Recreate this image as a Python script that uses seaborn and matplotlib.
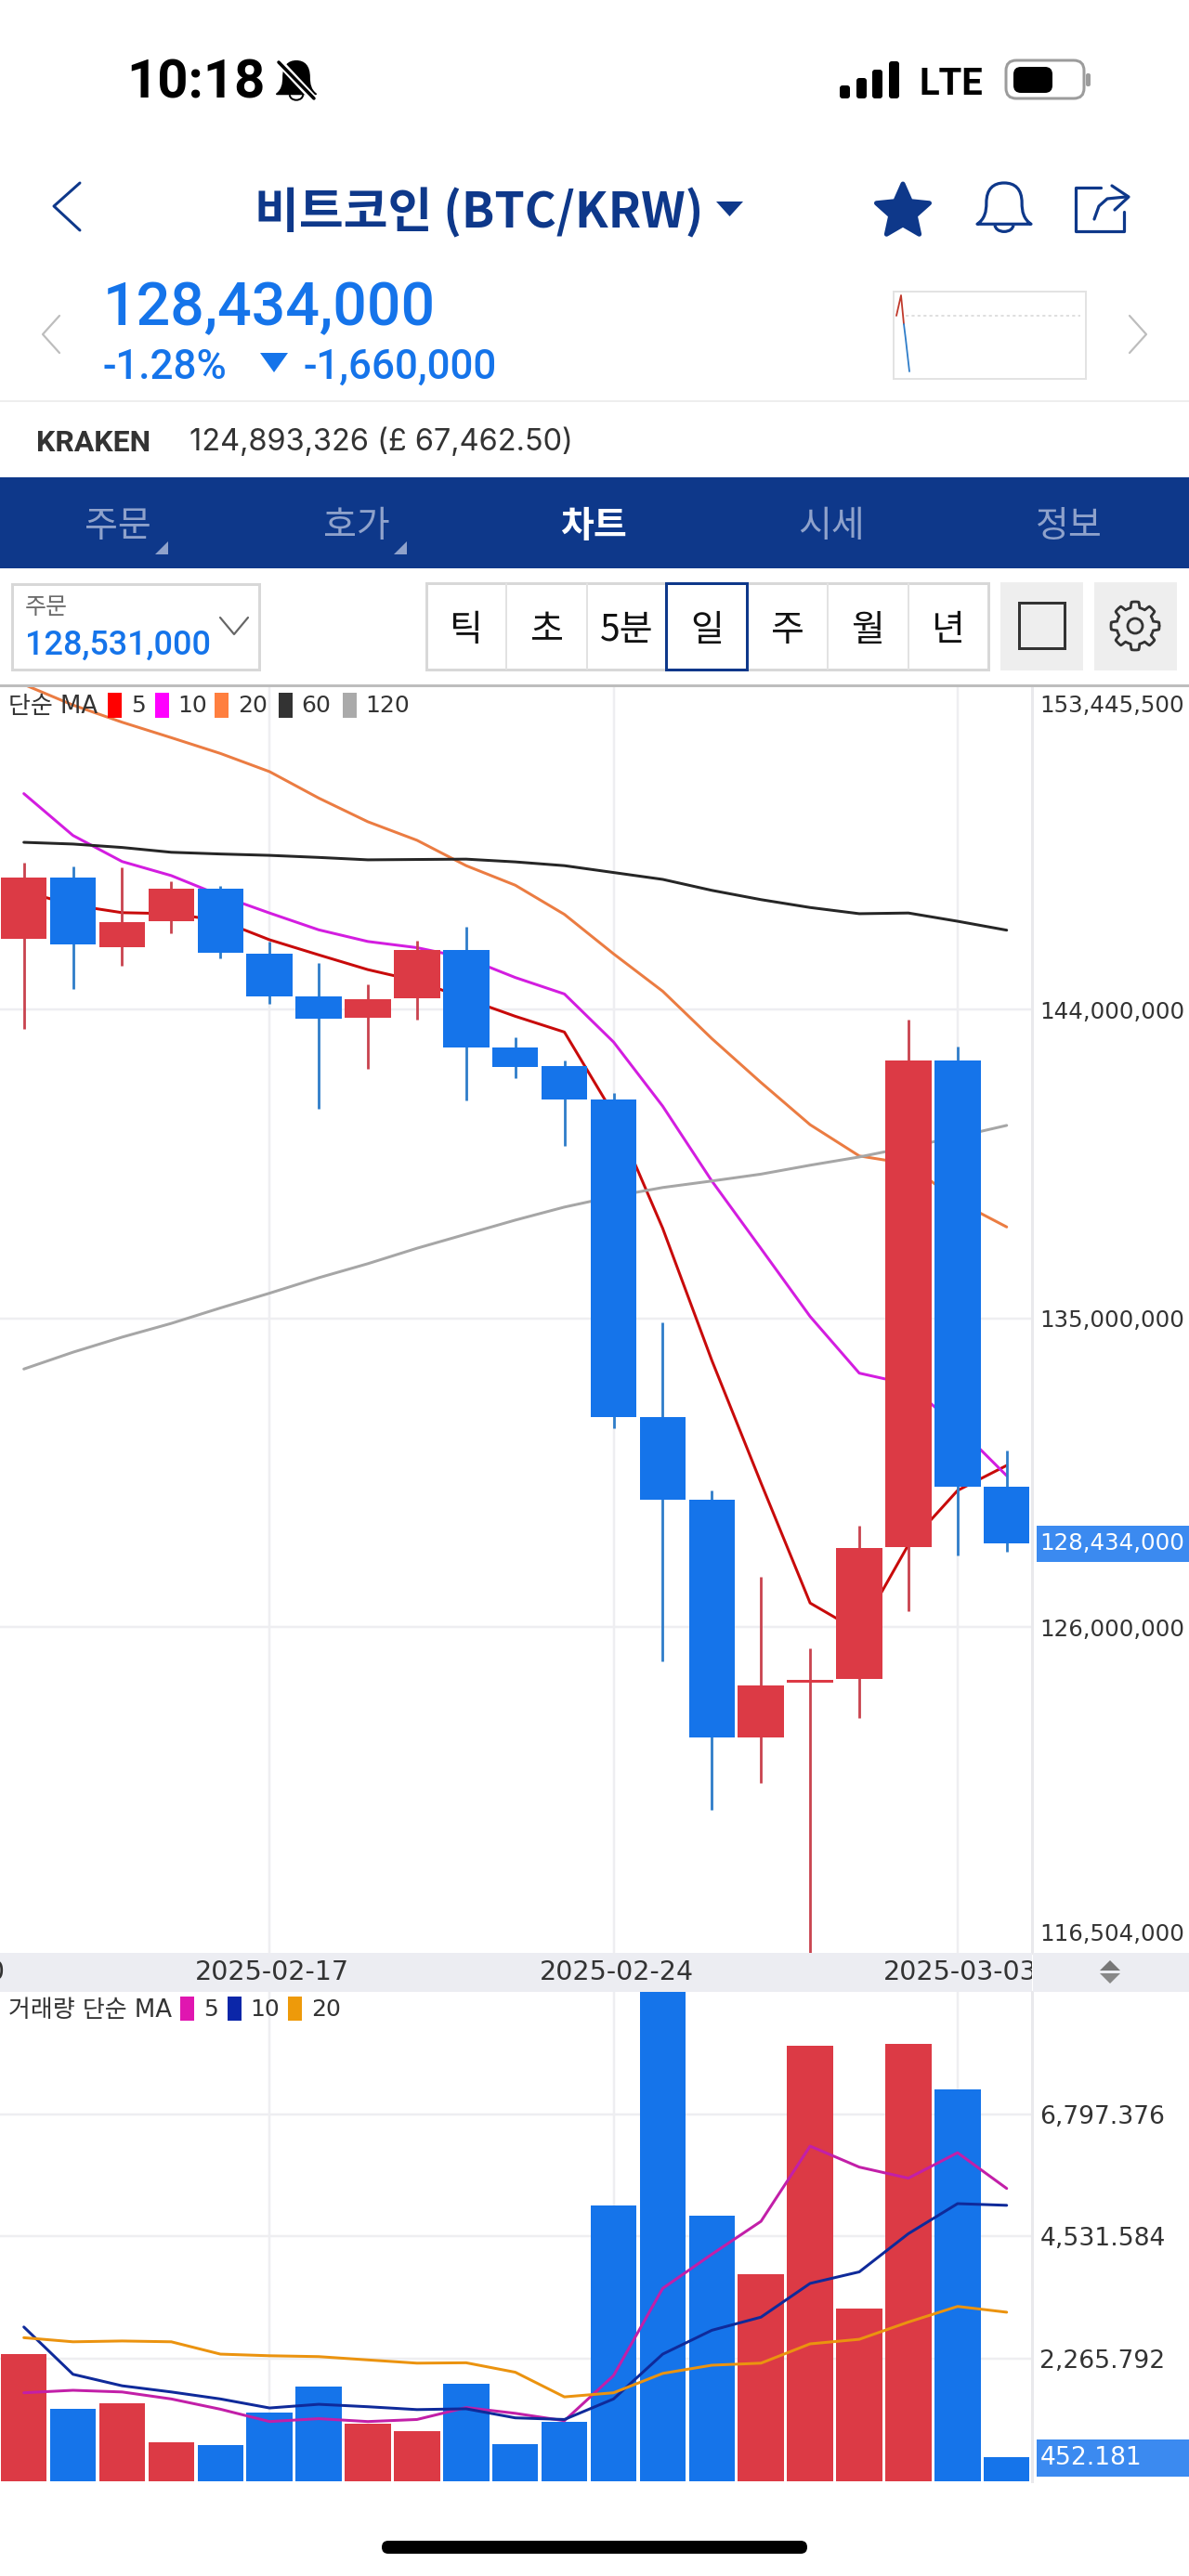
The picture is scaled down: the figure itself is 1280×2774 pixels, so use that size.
import numpy as np
import pandas as pd
import matplotlib
matplotlib.use("Agg")
import matplotlib.pyplot as plt
import matplotlib.patches as mpatches
from matplotlib.path import Path
import seaborn as sns

# candles, millions of KRW
days = list(range(21))
price_open = [146.06, 147.85, 145.81, 146.56, 147.51, 145.62, 144.38, 143.77, 144.33, 145.72, 142.88,
              142.36, 141.37, 132.13, 129.70, 122.77, 124.38, 124.49, 128.32, 142.50, 130.08]
price_close = [147.85, 145.90, 146.55, 147.51, 145.64, 144.39, 143.74, 144.31, 145.72, 142.88, 142.32,
               141.37, 132.13, 129.70, 122.77, 124.29, 124.47, 128.30, 142.50, 130.08, 128.434]
price_high = [148.28, 148.16, 148.14, 147.73, 147.61, 145.98, 145.35, 144.74, 146.01, 146.41, 143.19,
              142.50, 141.57, 134.88, 129.98, 127.47, 125.38, 128.95, 143.70, 142.93, 131.14]
price_low = [143.44, 144.59, 145.28, 146.21, 145.50, 144.15, 141.11, 142.26, 143.70, 141.34, 141.99,
             140.02, 131.80, 125.00, 120.68, 121.47, 116.30, 123.34, 126.47, 128.08, 128.20]

ma5 = [147.44, 147.04, 146.82, 146.79, 146.59, 146.03, 145.59, 145.16, 144.83, 144.31, 143.80,
       143.34, 140.95, 137.62, 133.77, 130.20, 126.70, 125.87, 128.40, 129.98, 130.71]
ma10 = [150.29, 149.07, 148.31, 147.90, 147.32, 146.81, 146.32, 145.98, 145.80, 145.50, 144.93,
        144.45, 143.05, 141.18, 139.00, 137.03, 135.05, 133.40, 133.08, 131.84, 130.41]
ma20 = [153.47, 152.87, 152.37, 151.92, 151.46, 150.93, 150.16, 149.47, 148.93, 148.19, 147.62,
        146.77, 145.62, 144.53, 143.15, 141.87, 140.64, 139.73, 139.50, 138.41, 137.66]
ma60 = [148.87, 148.82, 148.72, 148.58, 148.53, 148.49, 148.43, 148.36, 148.37, 148.38, 148.30,
        148.19, 147.99, 147.79, 147.47, 147.20, 146.97, 146.79, 146.81, 146.57, 146.31]
ma120 = [133.52, 134.01, 134.45, 134.85, 135.30, 135.73, 136.18, 136.59, 137.04, 137.45, 137.86,
         138.24, 138.55, 138.81, 139.00, 139.20, 139.46, 139.70, 139.99, 140.29, 140.62]

volume = [2365, 1338, 1445, 722, 669, 1270, 1764, 1072, 935, 1817, 692,
          1102, 5102, 9300, 4912, 3832, 8052, 3201, 8090, 7261, 452.181]
vol_ma5 = [1642, 1688, 1657, 1528, 1338, 1110, 1163, 1110, 1148, 1369, 1262,
           1125, 1961, 3573, 4204, 4813, 6204, 5816, 5611, 6082, 5421]
vol_ma10 = [2859, 1984, 1771, 1657, 1528, 1361, 1429, 1384, 1331, 1346, 1178,
            1148, 1528, 2357, 2798, 3041, 3665, 3878, 4585, 5140, 5109]
vol_ma20 = [2661, 2585, 2600, 2585, 2357, 2327, 2311, 2250, 2190, 2197, 2022,
            1566, 1642, 2000, 2152, 2190, 2547, 2631, 2950, 3239, 3132]

price_ticks = [126, 135, 144]
price_tick_labels = ["126,000,000", "135,000,000", "144,000,000"]
price_min, price_max = 116.504, 153.4455
vol_ticks = [2265.792, 4531.584, 6797.376]
vol_top = 9063
date_pos = [-2, 5, 12, 19]
date_labels = ["2025-02-10", "2025-02-17", "2025-02-24", "2025-03-03"]

spark_up = [(965, 340), (970, 318), (973, 349)]
spark_down = [(973, 349), (975, 365), (979, 400)]

W, H = 1280, 2774
RED, BLUE = "#DC3A45", "#1574EA"
RED_WICK, BLUE_WICK = "#C9434F", "#2F7DC9"
NAVY = "#0E388A"
GRID = "#EEEEF1"
TEXT = "#333333"
CJK = ["Noto Sans CJK KR", "DejaVu Sans"]


def pt(px):
    return px * 0.72


sns.set_theme(style="white")
plt.rcParams["font.family"] = ["DejaVu Sans", "Noto Sans CJK KR"]

fig = plt.figure(figsize=(W / 100, H / 100), dpi=100, facecolor="white")


def px_axes(x0, y0, x1, y1, **kw):
    return fig.add_axes([x0 / W, 1 - y1 / H, (x1 - x0) / W, (y1 - y0) / H], **kw)


x_left, x_right = -0.485, 20.515
price_ax = px_axes(0, 738, 1111, 2103, facecolor="white")
time_ax = px_axes(0, 2103, 1111, 2144.6, facecolor="#ECEDF2")
vol_ax = px_axes(0, 2144.6, 1111, 2672.3, facecolor="white")

# price pane
for values, color in [(ma5, "#C80A0A"), (ma10, "#D31DE0"), (ma20, "#EB7C42"), (ma60, "#262626"), (ma120, "#A6A6A6")]:
    sns.lineplot(x=days, y=values, color=color, linewidth=pt(3), errorbar=None, ax=price_ax, zorder=2)

candle_df = pd.DataFrame({"day": days, "open": price_open, "close": price_close, "high": price_high, "low": price_low})
candle_df["up"] = candle_df["close"] >= candle_df["open"]
price_ax.vlines(candle_df["day"], candle_df["low"], candle_df["high"],
                colors=[RED_WICK if u else BLUE_WICK for u in candle_df["up"]], linewidth=pt(2.8), zorder=3)
price_ax.bar(candle_df["day"], (candle_df["close"] - candle_df["open"]).abs(),
             bottom=candle_df[["open", "close"]].min(axis=1), width=0.935, linewidth=0,
             color=[RED if u else BLUE for u in candle_df["up"]], zorder=4)

price_ax.set_xlim(x_left, x_right)
price_ax.set_ylim(price_min, price_max)
price_ax.set_xticks([5, 12, 19])
price_ax.set_xticklabels([])
price_ax.set_yticks(price_ticks)
price_ax.set_yticklabels(price_tick_labels)
price_ax.yaxis.tick_right()
price_ax.tick_params(length=0, labelsize=pt(24.5), labelcolor=TEXT, pad=6)
price_ax.grid(True, color=GRID, linewidth=pt(2.5))
price_ax.set_axisbelow(True)
price_ax.set_xlabel("")
price_ax.set_ylabel("")
for side in ["top", "left", "bottom"]:
    price_ax.spines[side].set_visible(False)
price_ax.spines["right"].set_color("#E9E9EC")
price_ax.spines["right"].set_linewidth(pt(3))
price_ax.annotate("153,445,500", xy=(1, price_max), xycoords=("axes fraction", "data"), xytext=(8, -22),
                  textcoords="offset pixels", va="center", fontsize=pt(24.5), color=TEXT, annotation_clip=False)
price_ax.annotate("116,504,000", xy=(1, price_min), xycoords=("axes fraction", "data"), xytext=(8, 20),
                  textcoords="offset pixels", va="center", fontsize=pt(24.5), color=TEXT, annotation_clip=False)

# date strip
time_ax.set_xlim(x_left, x_right)
time_ax.set_ylim(0, 1)
time_ax.set_xticks([])
time_ax.set_yticks([])
for spine in time_ax.spines.values():
    spine.set_visible(False)
for pos, label_text in zip(date_pos, date_labels):
    time_ax.text(pos + 0.06, 0.5, label_text, ha="center", va="center", fontsize=pt(28.5), color=TEXT, clip_on=True)

# volume pane
vol_df = pd.DataFrame({"day": days, "volume": volume, "up": candle_df["up"]})
sns.barplot(vol_df, x="day", y="volume", hue="up", palette={True: RED, False: BLUE}, native_scale=True,
            dodge=False, width=0.935, saturation=1, linewidth=0, legend=False, ax=vol_ax, zorder=2)
for values, color in [(vol_ma5, "#C21FA8"), (vol_ma10, "#0F2A9A"), (vol_ma20, "#EB930F")]:
    sns.lineplot(x=days, y=values, color=color, linewidth=pt(3), errorbar=None, ax=vol_ax, zorder=3)
vol_ax.set_xlim(x_left, x_right)
vol_ax.set_ylim(0, vol_top)
vol_ax.set_xticks([5, 12, 19])
vol_ax.set_xticklabels([])
vol_ax.set_yticks(vol_ticks)
vol_ax.set_yticklabels([f"{v:,.3f}" for v in vol_ticks])
vol_ax.yaxis.tick_right()
vol_ax.tick_params(length=0, labelsize=pt(26.5), labelcolor=TEXT, pad=6)
vol_ax.grid(True, color=GRID, linewidth=pt(2.5))
vol_ax.set_axisbelow(True)
vol_ax.set_xlabel("")
vol_ax.set_ylabel("")
for side in ["top", "left", "bottom"]:
    vol_ax.spines[side].set_visible(False)
vol_ax.spines["right"].set_color("#E9E9EC")
vol_ax.spines["right"].set_linewidth(pt(3))

# everything around the panes is drawn in screen pixels
ui = fig.add_axes([0, 0, 1, 1], zorder=5)
ui.set_xlim(0, W)
ui.set_ylim(H, 0)
ui.axis("off")
ui.patch.set_alpha(0)


def rect(x0, y0, x1, y1, fc="none", ec="none", lw=0, **kw):
    ui.add_patch(mpatches.Rectangle((x0, y0), x1 - x0, y1 - y0, facecolor=fc, edgecolor=ec, linewidth=pt(lw), **kw))


def round_rect(x0, y0, x1, y1, r, fc="none", ec="none", lw=0):
    ui.add_patch(mpatches.FancyBboxPatch((x0 + r, y0 + r), x1 - x0 - 2 * r, y1 - y0 - 2 * r,
                                         boxstyle=f"round,pad={r},rounding_size={r}",
                                         facecolor=fc, edgecolor=ec, linewidth=pt(lw)))


def poly(points, color, lw=2.0, **kw):
    xs, ys = zip(*points)
    ui.plot(xs, ys, color=color, linewidth=pt(lw), solid_joinstyle="round", solid_capstyle="round", **kw)


def tri(points, color):
    ui.add_patch(mpatches.Polygon(points, closed=True, facecolor=color, edgecolor="none"))


def label(x, y, s, px, color=TEXT, ha="center", family=None, weight="normal"):
    ui.text(x, y, s, fontsize=pt(px), color=color, ha=ha, va="center", family=family or CJK, fontweight=weight)


def bell(cx, top, w, h, fc="none", ec="black", lw=2.0):
    x0, x1 = cx - w / 2, cx + w / 2
    base = top + h * 0.82
    verts = [(x0, base),
             (x0 + .14 * w, base - .1 * h), (x0 + .17 * w, base - .25 * h), (x0 + .17 * w, base - .42 * h),
             (x0 + .17 * w, top + .12 * h), (cx - .2 * w, top), (cx, top),
             (cx + .2 * w, top), (x1 - .17 * w, top + .12 * h), (x1 - .17 * w, base - .42 * h),
             (x1 - .17 * w, base - .25 * h), (x1 - .14 * w, base - .1 * h), (x1, base),
             (x0, base)]
    codes = [Path.MOVETO] + [Path.CURVE4] * 12 + [Path.CLOSEPOLY]
    ui.add_patch(mpatches.PathPatch(Path(verts, codes), facecolor=fc, edgecolor=ec, linewidth=pt(lw), joinstyle="round"))
    ui.add_patch(mpatches.Arc((cx, base + h * .02), w * .34, h * .26, theta1=0, theta2=180, edgecolor=ec, linewidth=pt(lw)))


# status bar
label(136, 90, "10:18", 58, "black", "left", ["Roboto"], "bold")
bell(319, 66, 42, 43, fc="black", ec="black", lw=2)
poly([(298, 64), (340, 109)], "white", 8)
poly([(300, 67), (338, 106)], "black", 3.5)
for x, top in zip([904, 922, 939, 957], [92, 84, 75, 66]):
    round_rect(x, top, x + 11, 106, 3, fc="black")
label(990, 91, "LTE", 40, "black", "left", ["Roboto"], "bold")
round_rect(1083, 65, 1167, 106, 11, ec="#9C9C9C", lw=3)
round_rect(1091, 72, 1133, 100, 8, fc="black")
round_rect(1169, 79, 1174, 93, 2, fc="#9C9C9C")

# title row
poly([(86, 197), (58, 222), (86, 248)], NAVY, 3)
label(516, 229, "비트코인 (BTC/KRW)", 52, NAVY, weight="bold")
tri([(771, 217), (800, 217), (785.5, 233)], NAVY)
angles = np.deg2rad(np.arange(10) * 36 - 90)
radii = np.where(np.arange(10) % 2 == 0, 30, 14)
star = np.column_stack([972 + radii * np.cos(angles), 228 + radii * np.sin(angles)])
ui.add_patch(mpatches.Polygon(star, closed=True, facecolor=NAVY, edgecolor=NAVY, linewidth=pt(5), joinstyle="round"))
bell(1081, 197, 58, 54, ec=NAVY, lw=3.2)
poly([(1185, 202), (1158, 202), (1158, 249), (1210, 249), (1210, 228)], NAVY, 3.2)
poly([(1178, 236), (1183, 222), (1192, 214), (1212, 212)], NAVY, 3.2)
poly([(1197, 200), (1215, 212), (1200, 226)], NAVY, 3.2)

# price summary
poly([(64, 340), (46, 360), (64, 380)], "#BDBDBD", 2.2)
poly([(1216, 340), (1234, 360), (1216, 380)], "#BDBDBD", 2.2)
label(111, 332, "128,434,000", 64.5, BLUE, "left", ["Roboto"], "medium")
label(111, 396, "-1.28%", 44, BLUE, "left", ["Roboto"], "medium")
tri([(280, 380), (310, 380), (295, 401)], BLUE)
label(327, 396, "-1,660,000", 44, BLUE, "left", ["Roboto"], "medium")
rect(962, 314, 1169, 408, ec="#E3E3E3", lw=2)
ui.plot([975, 1163], [340, 340], color="#D8D8D8", linewidth=pt(1.6), linestyle=(0, (2, 2)))
poly(spark_up, "#C0392B", 1.8)
poly(spark_down, "#2F7DC9", 1.8)
rect(0, 431, W, 433, fc="#EEEEEE")

label(39, 477, "KRAKEN", 32, TEXT, "left", ["Roboto"], "bold")
label(204, 476, "124,893,326 (£ 67,462.50)", 32.5, TEXT, "left", ["Inter"])

# nav bar
rect(0, 514, W, 612, fc=NAVY)
for x, s in zip([127, 384, 639, 895, 1151], ["주문", "호가", "차트", "시세", "정보"]):
    if s == "차트":
        label(x, 567, s, 39, "white", weight="bold")
    else:
        label(x, 567, s, 39, "#8FA2CB")
tri([(181, 583), (181, 597), (167, 597)], "#8FA2CB")
tri([(438, 583), (438, 597), (424, 597)], "#8FA2CB")

# toolbar
rect(13, 629, 279, 721, ec="#D8D8D8", lw=3)
label(27, 654, "주문", 25, "#6B6B6B", "left")
label(27, 695, "128,531,000", 36, BLUE, "left", ["Roboto"], "medium")
poly([(237, 665), (252, 683), (267, 665)], "#666666", 2.2)
cell_w = (1064 - 459) / 7
rect(459, 628, 1064, 721, ec="#D8D8D8", lw=3)
for i, s in enumerate(["틱", "초", "5분", "일", "주", "월", "년"]):
    if i:
        rect(459 + cell_w * i - 1, 628, 459 + cell_w * i + 1, 721, fc="#E2E2E2")
    label(459 + cell_w * (i + 0.5), 679, s, 39, "#111111")
rect(717, 628, 804, 721, ec=NAVY, lw=3)
rect(1077, 627, 1166, 722, fc="#EEEEEE")
rect(1178, 627, 1267, 722, fc="#EEEEEE")
rect(1097, 649, 1146, 698, ec="#333333", lw=3)
theta = np.linspace(0, 2 * np.pi, 361)
gear_r = 23 + 3 * np.clip(3 * np.cos(8 * theta), -1, 1)
ui.plot(1222 + gear_r * np.cos(theta), 674 + gear_r * np.sin(theta), color="#333333", linewidth=pt(2.8))
ui.add_patch(mpatches.Circle((1222, 674), 8, facecolor="none", edgecolor="#333333", linewidth=pt(2.8)))

# pane furniture
rect(0, 736.5, W, 739.5, fc="#BDBDBD")
label(9, 761, "단순 MA", 26, TEXT, "left", CJK[::-1])
for x0, color, tx, s in [(116, "#FF0000", 141, "5"), (167, "#FF00FF", 191, "10"), (231, "#FF7F3F", 256, "20"),
                         (300, "#333333", 324, "60"), (369, "#AAAAAA", 393, "120")]:
    rect(x0, 746, x0 + 15, 773, fc=color)
    label(tx, 760, s, 25, TEXT, "left", ["DejaVu Sans"])
label(9, 2165, "거래량 단순 MA", 26, TEXT, "left", CJK[::-1])
for x0, color, tx, s in [(194, "#E016B0", 219, "5"), (245, "#0B26A8", 269, "10"), (310, "#EE9A0A", 335, "20")]:
    rect(x0, 2150, x0 + 15, 2176, fc=color)
    label(tx, 2164, s, 25, TEXT, "left", ["DejaVu Sans"])

rect(1112, 2103, W, 2144.6, fc="#ECEDF2")
tri([(1184, 2122), (1206, 2122), (1195, 2111)], "#777777")
tri([(1184, 2125), (1206, 2125), (1195, 2136)], "#888888")

rect(1116, 1643, W, 1682, fc="#3B8AF0")
label(1119, 1662, "128,434,000", 24.5, "white", "left", ["DejaVu Sans"])
rect(1116, 2627, W, 2666.5, fc="#3B8AF0")
label(1120, 2647, "452.181", 26.5, "white", "left", ["DejaVu Sans"])

round_rect(411, 2736, 869, 2750, 7, fc="black")

fig.savefig("out.png", dpi=100)
